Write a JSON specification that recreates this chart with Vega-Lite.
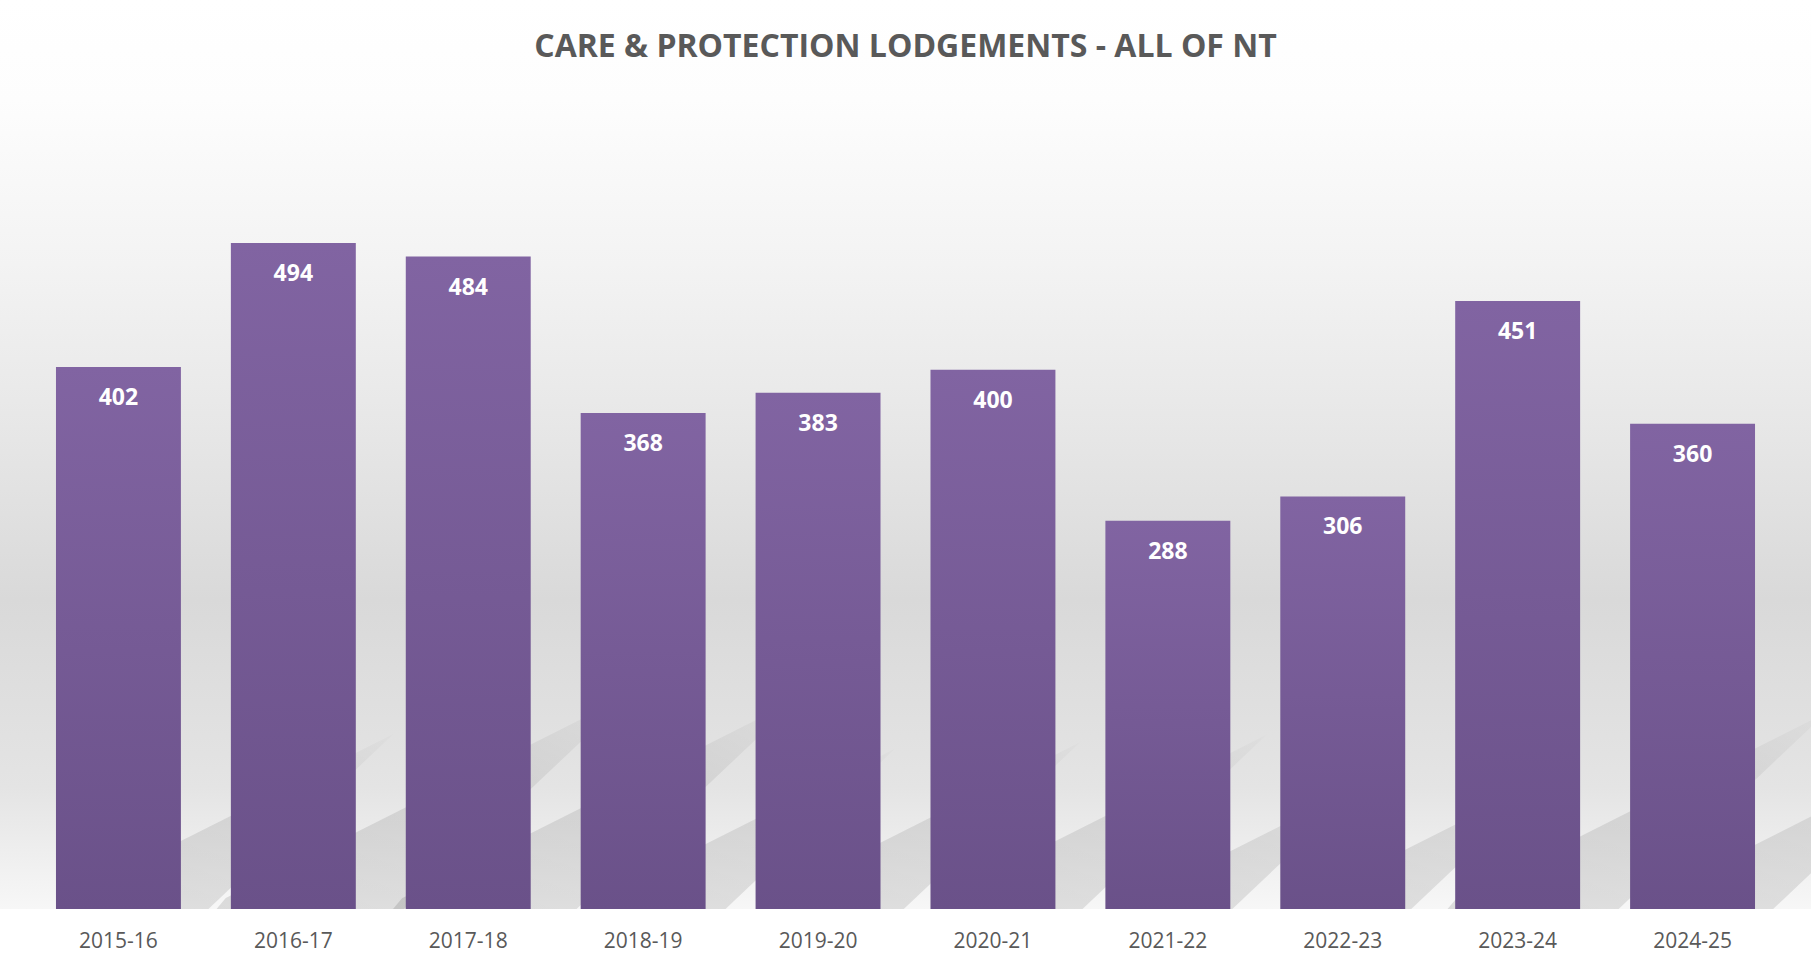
{
  "$schema": "https://vega.github.io/schema/vega-lite/v6.json",
  "autosize": {"type": "none"},
  "padding": {"left": 0, "top": 0, "right": 0, "bottom": 60},
  "width": 1811,
  "height": 909,
  "background": "#ffffff",
  "title": {
    "text": "CARE & PROTECTION LODGEMENTS - ALL OF NT",
    "font": "Open Sans",
    "fontSize": 32,
    "fontWeight": "bold",
    "color": "#595959",
    "anchor": "middle",
    "baseline": "alphabetic",
    "offset": -89
  },
  "config": {
    "view": {
      "stroke": null,
      "fill": {
        "gradient": "linear",
        "x1": 0, "y1": 0, "x2": 0, "y2": 1,
        "stops": [
          {"offset": 0, "color": "#ffffff"},
          {"offset": 0.11, "color": "#fdfdfd"},
          {"offset": 0.29, "color": "#f3f3f3"},
          {"offset": 0.47, "color": "#e7e7e7"},
          {"offset": 0.66, "color": "#d9d9d9"},
          {"offset": 0.866, "color": "#e4e4e4"},
          {"offset": 1, "color": "#f7f7f7"}
        ]
      }
    }
  },
  "data": {
    "values": [
      {"year": "2015-16", "lodgements": 402},
      {"year": "2016-17", "lodgements": 494},
      {"year": "2017-18", "lodgements": 484},
      {"year": "2018-19", "lodgements": 368},
      {"year": "2019-20", "lodgements": 383},
      {"year": "2020-21", "lodgements": 400},
      {"year": "2021-22", "lodgements": 288},
      {"year": "2022-23", "lodgements": 306},
      {"year": "2023-24", "lodgements": 451},
      {"year": "2024-25", "lodgements": 360}
    ]
  },
  "encoding": {
    "x": {
      "field": "year",
      "type": "nominal",
      "sort": null,
      "scale": {"paddingInner": 0.2857, "paddingOuter": 0.32},
      "axis": {
        "title": null,
        "labelAngle": 0,
        "domain": false,
        "ticks": false,
        "grid": false,
        "labelFont": "Open Sans",
        "labelFontSize": 21,
        "labelColor": "#595959",
        "labelPadding": 21
      }
    }
  },
  "layer": [
    {
      "mark": {
        "type": "point",
        "shape": "M -62.5 0 L 90 0 L 275 -175 L -55 -9 Z",
        "filled": true,
        "strokeWidth": 0,
        "clip": true,
        "fill": {
          "gradient": "linear",
          "x1": 0, "y1": 1, "x2": 1, "y2": 0,
          "stops": [
            {"offset": 0, "color": "rgba(0,0,0,0.16)"},
            {"offset": 0.6, "color": "rgba(0,0,0,0.12)"},
            {"offset": 1, "color": "rgba(0,0,0,0.02)"}
          ]
        }
      },
      "encoding": {
        "y": {"datum": 0, "type": "quantitative", "scale": {"domain": [0, 674.3], "nice": false}, "axis": null},
        "size": {
          "field": "lodgements",
          "type": "quantitative",
          "scale": {"type": "pow", "exponent": 2, "domain": [0, 402], "range": [0, 4]},
          "legend": null
        }
      }
    },
    {
      "mark": {
        "type": "bar",
        "color": {
          "gradient": "linear",
          "x1": 0, "y1": 0, "x2": 0, "y2": 1,
          "stops": [
            {"offset": 0, "color": "#8164a2"},
            {"offset": 1, "color": "#6a5189"}
          ]
        }
      },
      "encoding": {
        "y": {"field": "lodgements", "type": "quantitative", "scale": {"domain": [0, 674.3], "nice": false}, "axis": null}
      }
    },
    {
      "mark": {
        "type": "text",
        "font": "Open Sans",
        "fontSize": 23,
        "fontWeight": "bold",
        "color": "#ffffff",
        "baseline": "alphabetic",
        "dy": 38
      },
      "encoding": {
        "y": {"field": "lodgements", "type": "quantitative", "scale": {"domain": [0, 674.3], "nice": false}, "axis": null},
        "text": {"field": "lodgements", "type": "quantitative"}
      }
    }
  ]
}
